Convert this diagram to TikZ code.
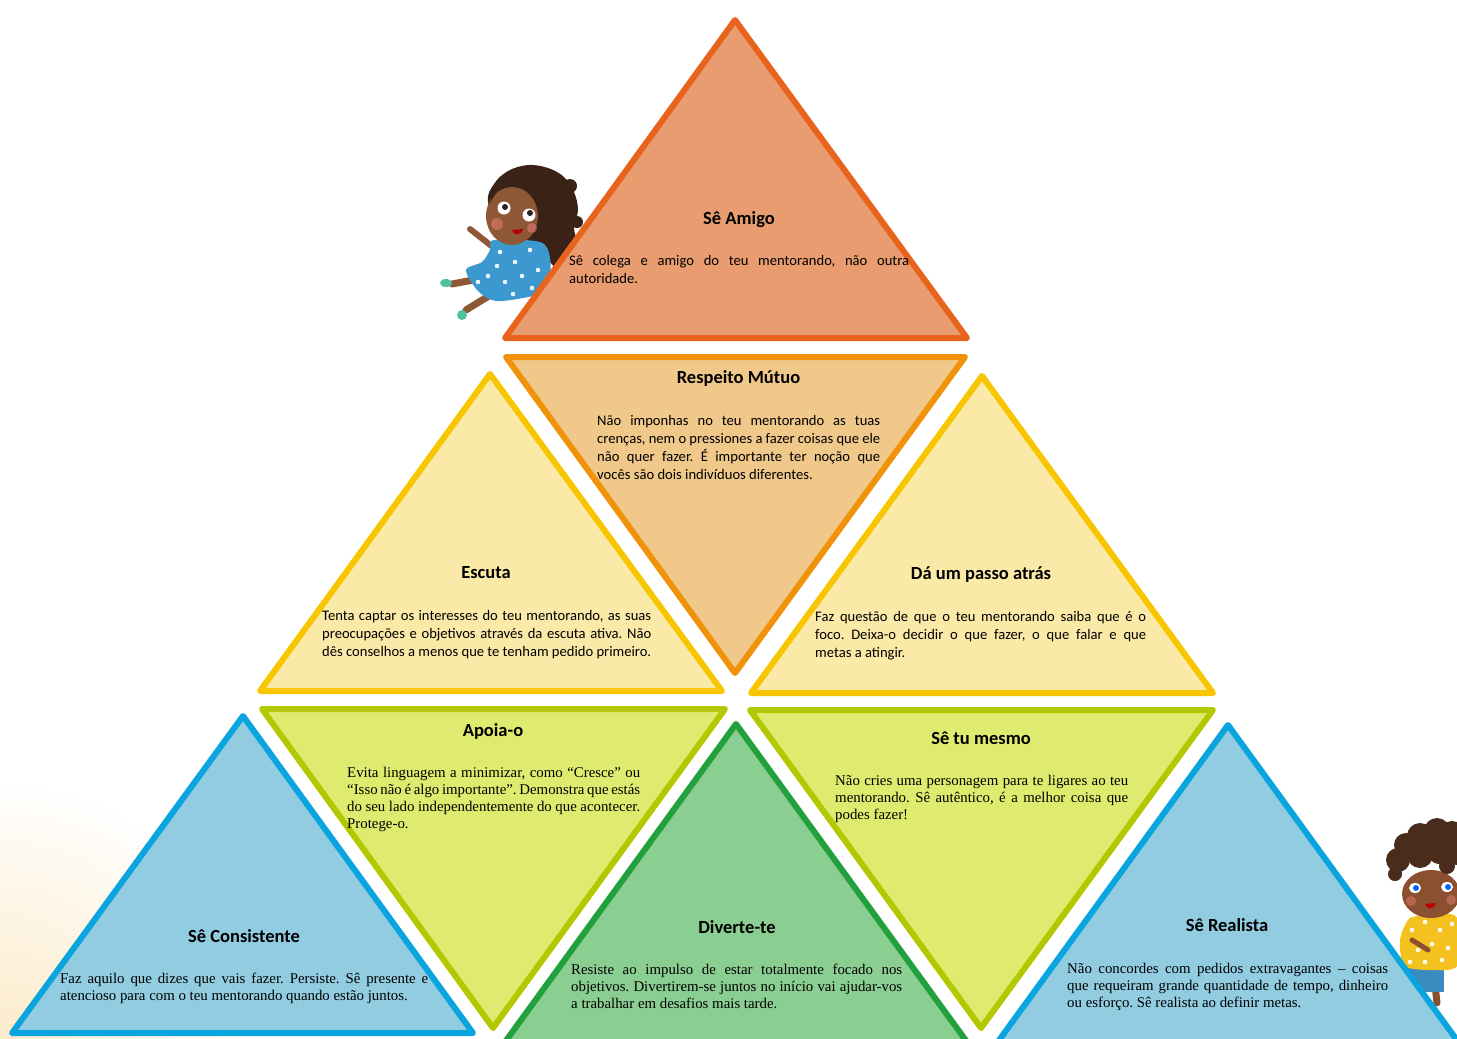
\documentclass[tikz,border=0pt]{standalone}
\usepackage{fontspec}
\setmainfont{Carlito}
\newfontfamily\calfont{Carlito}
\newfontfamily\tmsfont{Liberation Serif}
\frenchspacing

% triangle colours (fill / outline)
\definecolor{amigoF}{HTML}{E89C70}
\definecolor{amigoS}{HTML}{E8631B}
\definecolor{respF}{HTML}{F0C88A}
\definecolor{respS}{HTML}{F0920A}
\definecolor{yelF}{HTML}{FBE9A8}
\definecolor{yelS}{HTML}{F7C600}
\definecolor{limeF}{HTML}{DEEB6E}
\definecolor{limeS}{HTML}{B3C800}
\definecolor{grnF}{HTML}{8BCE92}
\definecolor{grnS}{HTML}{22A03C}
\definecolor{bluF}{HTML}{92CCE1}
\definecolor{bluS}{HTML}{0AA5DF}
% figures
\definecolor{hairDk}{HTML}{3A2216}
\definecolor{hairMd}{HTML}{4A2C1C}
\definecolor{skinG}{HTML}{8E5736}
\definecolor{skinB}{HTML}{8A5030}
\definecolor{dressB}{HTML}{3C99CF}
\definecolor{sockG}{HTML}{4FC3A0}
\definecolor{cheek}{HTML}{E07A70}
\definecolor{shirtY}{HTML}{F3C21E}
\definecolor{shortB}{HTML}{3A8CC0}
\definecolor{glow}{HTML}{FCEBCB}

\begin{document}
\begin{tikzpicture}[x=1pt,y=-1pt,
  tri/.style={line width=6pt,line join=round},
  head/.style={font=\calfont\bfseries\fontsize{18.5}{22}\selectfont,inner sep=0pt,anchor=base},
  cbody/.style={font=\calfont\fontsize{14.6}{18}\selectfont,text width=#1,align=justify,inner sep=0pt,anchor=base west},
  tbody/.style={font=\tmsfont\fontsize{14.85}{17}\selectfont,text width=#1,align=justify,inner sep=0pt,anchor=base west},
  dot/.style={fill=white,opacity=0.9},
]
\useasboundingbox (0,0) rectangle (1457,1039);
\clip (0,0) rectangle (1457,1039);

% warm glow in the lower left corner
\shade[inner color=glow,outer color=white] (0,1039) circle (260);

% ---------- girl sitting on the top triangle ----------
% legs and socks
\draw[skinG,line width=7pt,line cap=round] (484,278) -- (452,284);
\draw[skinG,line width=7pt,line cap=round] (492,294) -- (466,310);
\fill[sockG] (446,283) ellipse (6 and 4);
\fill[sockG] (462,315) ellipse (5 and 5);
% arms
\draw[skinG,line width=6pt,line cap=round] (494,248) -- (470,229);
\draw[skinG,line width=6pt,line cap=round] (540,250) -- (578,240);
% wavy hair behind the head
\fill[hairDk] plot[smooth cycle,tension=0.6] coordinates
  {(488,202) (494,184) (508,171) (528,165) (548,168) (564,177) (574,192) (578,210) (574,228) (578,246) (574,262) (562,270) (550,262) (545,246) (525,244) (500,238)};
\foreach \c/\r in {(570,186)/7,(577,222)/6,(576,254)/6}
  \fill[hairDk] \c circle (\r);
% dress
\fill[dressB] plot[smooth cycle,tension=0.5] coordinates
  {(494,240) (540,242) (550,258) (548,290) (528,297) (496,301) (478,291) (466,270) (482,262) (490,250)};
\foreach \p in {(500,252),(515,262),(530,250),(488,276),(505,282),(522,276),(538,270),(513,294),(532,288),(478,282),(497,266)}
  \fill[dot] \p circle (2.3);
% face
\fill[skinG] (512,216) ellipse (26 and 29);
\fill[hairDk] plot[smooth,tension=0.7] coordinates {(490,204) (500,190) (520,186) (540,194) (545,206)} -- (545,186) -- (495,186) -- cycle;
\fill[cheek,opacity=0.6] (497,224) circle (6);
\fill[cheek,opacity=0.6] (532,228) circle (5);
\fill[white] (504,208) circle (6.5);
\fill[white] (529,215) circle (6.5);
\fill[black!85] (505,207) circle (3);
\fill[black!85] (530,213) circle (3);
\fill[red!70!black] (512,230) -- (523,229) .. controls (521,236) and (514,236) .. (512,230) -- cycle;

% ---------- boy on the right edge ----------
\draw[skinB,line width=7pt,line cap=round] (1420,985) -- (1420,1003);
\draw[skinB,line width=7pt,line cap=round] (1435,985) -- (1437,1003);
\fill[shortB] (1408,962) rectangle (1444,992);
\fill[shirtY] plot[smooth cycle,tension=0.4] coordinates
  {(1410,918) (1440,914) (1457,918) (1457,966) (1430,970) (1404,966) (1400,940)};
\foreach \p in {(1412,930),(1425,922),(1440,930),(1452,924),(1418,950),(1432,944),(1448,948),(1410,962),(1425,962),(1442,960)}
  \fill[dot] \p circle (2.3);
\draw[skinB,line width=5pt,line cap=round] (1412,940) -- (1428,950);
\fill[skinB] (1431,894) ellipse (29 and 24);
% curly hair
\foreach \c/\r in {(1398,860)/12,(1406,845)/12,(1420,836)/13,(1437,831)/13,(1452,834)/13,(1457,852)/13,(1440,850)/14,(1420,855)/13,(1395,874)/7,(1447,866)/8}
  \fill[hairMd] \c circle (\r);
\fill[cheek,opacity=0.5] (1411,901) circle (5);
\fill[cheek,opacity=0.5] (1451,900) circle (5);
\fill[white] (1415,888) ellipse (6 and 5);
\fill[white] (1447,887) ellipse (6 and 5);
\fill[blue!60!cyan] (1416,888) circle (3);
\fill[blue!60!cyan] (1448,887) circle (3);
\fill[red!75!black] (1425,904) -- (1436,903) .. controls (1434,910) and (1427,910) .. (1425,904) -- cycle;

% ---------- triangles ----------
% top
\filldraw[tri,fill=amigoF,draw=amigoS] (735,20) -- (967,338) -- (505,338) -- cycle;
% second row
\filldraw[tri,fill=respF,draw=respS] (506,357) -- (965,357) -- (735,673) -- cycle;
\filldraw[tri,fill=yelF,draw=yelS] (490,374) -- (722,691) -- (260,691) -- cycle;
\filldraw[tri,fill=yelF,draw=yelS] (982,376) -- (1213,693) -- (751,693) -- cycle;
% third row
\filldraw[tri,fill=limeF,draw=limeS] (262,709) -- (725,709) -- (493,1028) -- cycle;
\filldraw[tri,fill=limeF,draw=limeS] (750,710) -- (1213,710) -- (981,1028) -- cycle;
\filldraw[tri,fill=bluF,draw=bluS] (243,716) -- (473,1033) -- (12,1033) -- cycle;
\filldraw[tri,fill=grnF,draw=grnS] (736,724) -- (967,1042) -- (505,1042) -- cycle;
\filldraw[tri,fill=bluF,draw=bluS] (1228,725) -- (1459,1043) -- (997,1043) -- cycle;

% ---------- headings ----------
\node[head] (hAmigo) at (739,224) {Sê Amigo};
\node[head] (hResp) at (738.5,383) {Respeito Mútuo};
\node[head] (hEsc) at (486,578) {Escuta};
\node[head] (hPasso) at (981,579) {Dá um passo atrás};
\node[head] (hApoia) at (493,736) {Apoia-o};
\node[head] (hMesmo) at (981,744) {Sê tu mesmo};
\node[head] (hCons) at (244,942) {Sê Consistente};
\node[head] (hDiv) at (737,933) {Diverte-te};
\node[head] (hReal) at (1227,931) {Sê Realista};

% ---------- texts ----------
\node[cbody=340pt] (tAmigo) at (569,265)
  {Sê colega e amigo do teu mentorando, não outra\linebreak autoridade.};
\node[cbody=283pt] (tResp) at (597,425)
  {Não imponhas no teu mentorando as tuas\linebreak crenças, nem o pressiones a fazer coisas que ele\linebreak não quer fazer. É importante ter noção que\linebreak vocês são dois indivíduos diferentes.};
\node[cbody=329pt] (tEsc) at (322,620)
  {Tenta captar os interesses do teu mentorando, as suas\linebreak preocupações e objetivos através da escuta ativa. Não\linebreak dês conselhos a menos que te tenham pedido primeiro.};
\node[cbody=331pt] (tPasso) at (815,621)
  {Faz questão de que o teu mentorando saiba que é o\linebreak foco. Deixa-o decidir o que fazer, o que falar e que\linebreak metas a atingir.};
\node[tbody=293pt] (tApoia) at (347,777)
  {Evita linguagem a minimizar, como “Cresce” ou\linebreak “Isso não é algo importante”. Demonstra que estás\linebreak do seu lado independentemente do que acontecer.\linebreak Protege-o.};
\node[tbody=293pt] (tMesmo) at (835,785)
  {Não cries uma personagem para te ligares ao teu\linebreak mentorando. Sê autêntico, é a melhor coisa que\linebreak podes fazer!};
\node[tbody=368pt] (tCons) at (60,983)
  {Faz aquilo que dizes que vais fazer. Persiste. Sê presente e\linebreak atencioso para com o teu mentorando quando estão juntos.};
\node[tbody=331pt] (tDiv) at (571,974)
  {Resiste ao impulso de estar totalmente focado nos\linebreak objetivos. Divertirem-se juntos no início vai ajudar-vos\linebreak a trabalhar em desafios mais tarde.};
\node[tbody=321pt] (tReal) at (1067,973)
  {Não concordes com pedidos extravagantes – coisas\linebreak que requeiram grande quantidade de tempo, dinheiro\linebreak ou esforço. Sê realista ao definir metas.};
\end{tikzpicture}
\end{document}
